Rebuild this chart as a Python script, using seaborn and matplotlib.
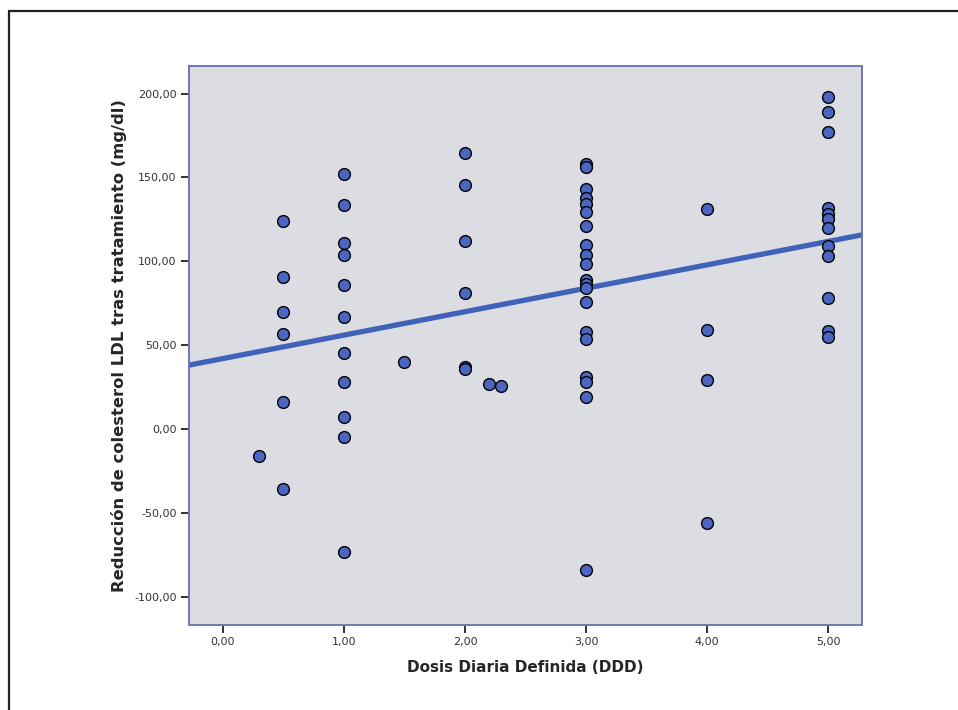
import numpy as np
import pandas as pd
import matplotlib
matplotlib.use("Agg")
import matplotlib.pyplot as plt
from matplotlib.lines import Line2D
from matplotlib.ticker import FuncFormatter
import seaborn as sns

# reduction of LDL (mg/dl) read per dose level (DDD)
y_03 = [-16]
y_05 = [124, 90.5, 70, 56.5, 16, -36]
y_10 = [152, 133.5, 111, 104, 86, 67, 45, 28, 7, -5, -73.5]
y_15 = [40]
y_20 = [164.5, 145.5, 112, 81, 37, 36]
y_22 = [27]
y_23 = [25.5]
y_30 = [158, 156, 143, 138, 134, 129.5, 121, 109.5, 104, 98.5,
        89, 86.5, 84, 75.5, 58, 53.5, 31, 28, 19, -84]
y_40 = [131, 59, 29, -56]
y_50 = [198, 189, 177, 131.5, 128, 125, 120, 109, 103, 78, 58.5, 55]

groups = {0.3: y_03, 0.5: y_05, 1.0: y_10, 1.5: y_15, 2.0: y_20,
          2.2: y_22, 2.3: y_23, 3.0: y_30, 4.0: y_40, 5.0: y_50}

x_ticks = [0, 1, 2, 3, 4, 5]
y_ticks = [-100, -50, 0, 50, 100, 150, 200]

df = pd.DataFrame(
    [(dose, val) for dose, vals in groups.items() for val in vals],
    columns=["ddd", "reduccion"],
)

sns.set_style("white")
plt.rcParams["font.family"] = ["DejaVu Sans"]

fig = plt.figure(figsize=(9.58, 7.10), dpi=100)
ax = fig.add_axes([189 / 958, 1 - 625 / 710, (862 - 189) / 958, (625 - 66) / 710])
ax.set_facecolor("#dcdde2")
ax.set_xlim(-0.28, 5.28)
ax.set_ylim(-117, 216.5)

sns.regplot(
    data=df, x="ddd", y="reduccion", ax=ax, ci=None, truncate=False,
    scatter_kws=dict(s=72, color="#4a66c0", edgecolor="black", linewidths=1.0,
                     alpha=1, zorder=3),
    line_kws=dict(color="#3f63b8", lw=3.8, zorder=2),
)
ax.set_xlim(-0.28, 5.28)
ax.set_ylim(-117, 216.5)

for sp in ax.spines.values():
    sp.set_color("#7078b0")
    sp.set_linewidth(1.4)

fmt = FuncFormatter(lambda v, pos: f"{v:.2f}".replace(".", ","))
ax.set_xticks(x_ticks)
ax.set_yticks(y_ticks)
ax.xaxis.set_major_formatter(fmt)
ax.yaxis.set_major_formatter(fmt)
ax.tick_params(axis="both", direction="out", length=6, width=1.4, color="#333333",
               labelsize=8, labelcolor="#333333", bottom=True, left=True, pad=3)

ax.set_xlabel("Dosis Diaria Definida (DDD)", fontsize=11, fontweight="bold", labelpad=9)
ax.set_ylabel("Reducción de colesterol LDL tras tratamiento (mg/dl)",
              fontsize=11.8, fontweight="bold", labelpad=5)

# outer chart frame (left and top edges visible)
fy = 1 - 11 / 710
fx = 9 / 958
fig.add_artist(Line2D([fx, fx], [0, fy], transform=fig.transFigure, color="#222222", lw=1.6))
fig.add_artist(Line2D([fx, 1], [fy, fy], transform=fig.transFigure, color="#222222", lw=1.6))

fig.savefig("out.png", dpi=100)
